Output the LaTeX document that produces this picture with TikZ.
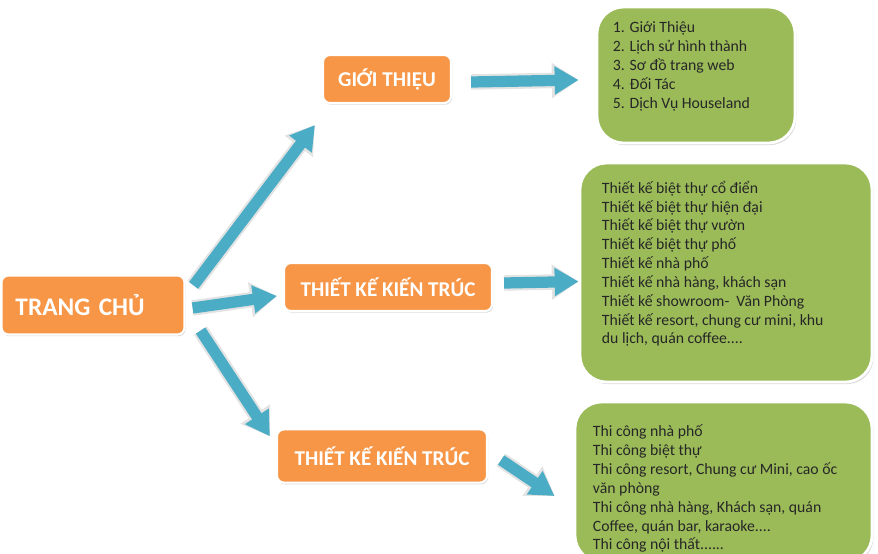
\documentclass[tikz,border=0pt]{standalone}
\usepackage{fontspec}
\setmainfont{Carlito}
\usepackage{tikz}
\usetikzlibrary{arrows.meta}
\usetikzlibrary{shadows}
\usetikzlibrary{positioning}
\definecolor{headorange}{HTML}{F79646}
\definecolor{panelgreen}{HTML}{9BBB59}
\definecolor{flowblue}{HTML}{4BACC6}
\newcommand\paneltext[3]{\parbox[c][#2][t]{#1}{#3}}

\begin{document}
\begin{tikzpicture}[x=0.025cm, y=-0.025cm,
head/.style = {rectangle, rounded corners=5pt, fill=headorange, draw=white, line width=1.5pt, text=white, font=\bfseries\fontsize{15}{18}\selectfont, drop shadow={opacity=0.3, shadow xshift=0.8pt, shadow yshift=-1.2pt}},
panel/.style = {rectangle, rounded corners=19pt, fill=panelgreen, draw=white, line width=2pt, text=black!85, font=\fontsize{11.2}{13.4}\selectfont, drop shadow={opacity=0.3, shadow xshift=1pt, shadow yshift=-1.5pt}},
flow/.style = {line width=8pt, draw=flowblue, -{Triangle[length=17pt, width=19pt]}, preaction={draw=gray!22, line width=11pt, -{Triangle[length=19pt, width=24pt]}}}]

\useasboundingbox (0,0) rectangle (878,553);
\clip (0,0) rectangle (878,553);

\node[head, minimum width=4.575cm, minimum height=1.475cm, text width=3.875cm, align=left, inner xsep=0.35cm, font=\bfseries\fontsize{18}{21}\selectfont] (home) at (93,305) {TRANG CHỦ};
\node[head, minimum width=3.2cm, minimum height=1.2cm] (intro) at (387,79) {GIỚI THIỆU};
\node[head, minimum width=5.2cm, minimum height=1.2cm] (design) at (388,287) {THIẾT KẾ KIẾN TRÚC};
\node[head, minimum width=5.25cm, minimum height=1.33cm] (build) at (382,456) {THIẾT KẾ KIẾN TRÚC};

\node[panel, inner xsep=0.4cm, inner ysep=0.375cm] (introlist) at (696,75) {\paneltext{4.15cm}{2.65cm}{1. Giới Thiệu\\2. Lịch sử hình thành\\3. Sơ đồ trang web\\4. Đối Tác\\5. Dịch Vụ Houseland}};
\node[panel, inner xsep=0.55cm, inner ysep=0.45cm] (designlist) at (726,272.5) {\paneltext{6.2cm}{4.575cm}{Thiết kế biệt thự cổ điển\\Thiết kế biệt thự hiện đại\\Thiết kế biệt thự vườn\\Thiết kế biệt thự phố\\Thiết kế nhà phố\\Thiết kế nhà hàng, khách sạn\\Thiết kế showroom-\ \ Văn Phòng\\Thiết kế resort, chung cư mini, khu\\du lịch, quán coffee....}};
\node[panel, inner xsep=0.45cm, inner ysep=0.575cm] (buildlist) at (723.5,482) {\paneltext{6.525cm}{2.85cm}{Thi công nhà phố\\Thi công biệt thự\\Thi công resort, Chung cư Mini, cao ốc\\văn phòng\\Thi công nhà hàng, Khách sạn, quán\\Coffee, quán bar, karaoke....\\Thi công nội thất......}};

\coordinate (a1s) at ([shift={(8,11)}]home.north east);
\coordinate (a1e) at ([shift={(-7,21)}]intro.south west);
\coordinate (a2s) at ([shift={(7,3)}]home.east);
\coordinate (a2e) at ([shift={(-6,9)}]design.west);
\coordinate (a3s) at ([shift={(15,-5)}]home.south east);
\coordinate (a3e) at ([shift={(-6,8)}]build.north west);
\coordinate (a4s) at ([shift={(19,3)}]intro.east);
\coordinate (a4e) at ([shift={(-17,5)}]introlist.west);
\coordinate (a5s) at ([shift={(11,-4)}]design.east);
\coordinate (a5e) at ([shift={(0,9)}]designlist.west);
\coordinate (a6s) at ([shift={(13,4)}]build.east);
\coordinate (a6e) at ([shift={(-19,14)}]buildlist.west);

\draw[flow] (a1s) -- (a1e);
\draw[flow] (a2s) -- (a2e);
\draw[flow] (a3s) -- (a3e);
\draw[flow] (a4s) -- (a4e);
\draw[flow] (a5s) -- (a5e);
\draw[flow] (a6s) -- (a6e);

\end{tikzpicture}
\end{document}
